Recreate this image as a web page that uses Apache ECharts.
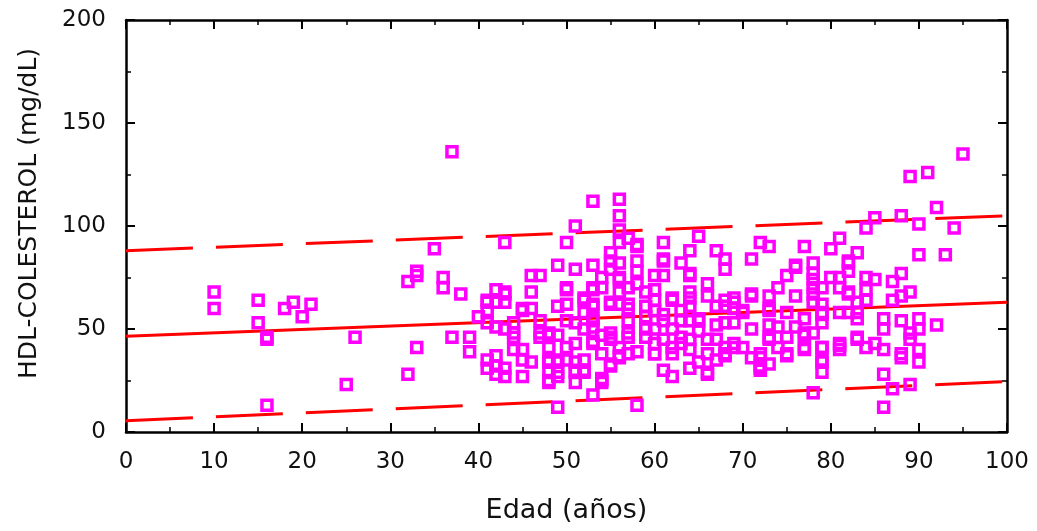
<!DOCTYPE html>
<head>
    <meta charset="utf-8">
    <title>HDL-colesterol por edad</title>
    <script type="text/javascript" src="https://cdn.jsdelivr.net/npm/echarts@6/dist/echarts.min.js"></script>
</head>

<body style="margin:0;background:#fff">
<div id="main" style="width:1037px;height:531px"></div>

<script type="text/javascript">
    // puntos [edad, HDL] agrupados por tramo de edad
    var tramo10a30 = [
        [10,68],[10,60],[15,64],[15,53],[16,46],[16,45],[16,13],[18,60],[19,63],[20,56],
        [21,62],[25,23],[26,46]
    ];
    var tramo30a45 = [
        [32,73],[33,78],[33,76],[32,28],[33,41],[35,89],[36,75],[36,70],[37,136],[37,46],
        [38,67],[39,46],[39,39],[43,92],[42,69],[43,68],[41,63],[42,63],[43,63],[40,56],
        [41,53],[42,51],[44,53],[45,60],[41,35],[42,37],[41,31],[42,32],[43,31],[42,28],
        [43,27],[45,27],[45,40],[46,34],[44,48],[44,40],[41,64],[41,59],[43,67],[45,35],
        [43,50],[44,46],[45,59]
    ];
    var tramo45a55 = [
        [53,112],[51,100],[50,92],[49,81],[51,79],[53,81],[47,76],[46,76],[46,68],[46,60],
        [50,69],[49,61],[47,54],[47,48],[48,48],[48,41],[48,34],[49,34],[48,25],[49,27],
        [50,54],[51,43],[51,34],[52,35],[51,24],[52,64],[52,58],[53,70],[53,61],[54,75],
        [53,18],[49,12],[54,38],[54,25],[55,32],[55,87],[55,83],[55,79],[50,70],[53,62],
        [52,65],[55,63],[53,54],[52,50],[50,41],[53,43],[51,29],[52,29],[53,69],[51,53],
        [53,55],[53,51],[53,44],[47,46],[48,47],[49,47],[48,35],[49,35],[48,29],[49,29],
        [48,24],[50,35],[51,30],[52,30],[54,26],[54,70],[55,62],[55,46],[55,45],[55,33],
        [54,24],[50,62],[54,47]
    ];
    var tramo55a70 = [
        [56,113],[56,105],[56,98],[56,92],[57,94],[58,90],[61,92],[61,84],[64,88],[65,95],
        [67,88],[68,84],[68,79],[66,72],[58,78],[60,76],[61,76],[63,82],[64,76],[56,74],
        [56,68],[57,70],[57,62],[59,68],[59,61],[60,69],[60,64],[62,64],[64,68],[64,61],
        [67,61],[68,61],[69,65],[57,54],[59,56],[61,54],[63,54],[64,54],[65,54],[67,52],
        [68,53],[55,48],[57,48],[59,50],[60,50],[62,50],[63,46],[56,41],[57,38],[60,43],
        [60,38],[62,38],[63,43],[56,36],[58,13],[61,30],[62,27],[64,31],[65,34],[66,29],
        [66,45],[68,41],[69,43],[58,91],[56,82],[58,83],[61,83],[64,77],[56,75],[62,65],
        [64,65],[68,64],[69,60],[56,62],[57,60],[60,59],[61,57],[63,59],[65,55],[69,53],
        [57,46],[59,46],[61,45],[64,45],[67,45],[69,41],[56,37],[58,39],[60,38],[62,41],
        [64,40],[66,38],[68,38],[66,28],[68,37],[69,63],[58,72],[66,66],[65,49],[67,35]
    ];
    var tramo70a100 = [
        [70,59],[71,67],[73,66],[73,60],[72,38],[72,32],[73,45],[71,84],[72,92],[73,90],
        [95,135],[89,124],[91,126],[92,109],[88,105],[85,104],[84,99],[90,101],[94,99],[90,86],
        [93,86],[92,52],[77,90],[80,89],[81,94],[83,87],[82,82],[76,80],[75,76],[78,82],
        [78,77],[80,75],[81,75],[84,75],[85,74],[88,77],[87,73],[89,68],[76,66],[78,70],
        [78,63],[82,68],[83,63],[84,69],[84,64],[87,64],[88,66],[70,58],[73,59],[75,58],
        [79,58],[81,58],[83,55],[86,55],[88,54],[90,55],[71,50],[74,51],[76,51],[77,48],
        [79,53],[83,46],[84,41],[85,43],[86,40],[89,48],[70,41],[72,36],[72,31],[73,33],
        [75,38],[77,41],[79,41],[79,35],[79,29],[81,40],[81,43],[88,36],[90,40],[90,34],
        [86,28],[89,23],[87,21],[78,19],[86,12],[76,81],[82,83],[82,78],[71,66],[74,70],
        [78,74],[78,67],[79,70],[79,62],[81,70],[82,67],[82,58],[73,52],[77,55],[79,57],
        [83,58],[73,46],[74,41],[75,46],[77,47],[78,48],[77,40],[79,41],[81,42],[83,45],
        [71,36],[72,30],[75,37],[79,34],[90,50],[89,45],[88,38],[86,50]
    ];
    // recta de regresion y limites (extremos en x = 0 y x = 100)
    var recta = [[0,46.5],[100,63]];
    var limiteSup = [[0,88],[100,105]];
    var limiteInf = [[0,5.5],[100,24.5]];

    var puntos = tramo10a30.concat(tramo30a45, tramo45a55, tramo55a70, tramo70a100);

    var fuente = 'DejaVu Sans, sans-serif';
    function eje(extra) {
        return Object.assign({
            axisLine: {show: true, onZero: false, lineStyle: {color: '#000', width: 2.5}},
            axisTick: {show: true, inside: true, length: 9, lineStyle: {color: '#000', width: 2}},
            minorTick: {show: true, splitNumber: 2, length: 5, lineStyle: {color: '#000', width: 1.5}},
            splitLine: {show: false}
        }, extra);
    }

    var myChart = echarts.init(document.getElementById('main'));
    var option = {
        backgroundColor: '#fff',
        animation: false,
        grid: {left: 126, right: 30, top: 20, bottom: 99},
        xAxis: [
            eje({
                type: 'value', min: 0, max: 100, interval: 10, position: 'bottom',
                name: 'Edad (años)', nameLocation: 'middle', nameGap: 65,
                nameTextStyle: {fontSize: 27, color: '#111', fontFamily: fuente},
                axisLabel: {fontSize: 23, color: '#111', margin: 19, fontFamily: fuente}
            }),
            eje({
                type: 'value', min: 0, max: 100, interval: 10, position: 'top',
                axisLabel: {show: false}
            })
        ],
        yAxis: [
            eje({
                type: 'value', min: 0, max: 200, interval: 50, position: 'left',
                name: 'HDL-COLESTEROL (mg/dL)', nameLocation: 'middle', nameGap: 84,
                nameTextStyle: {fontSize: 25, color: '#111', fontFamily: fuente, padding: [0, 0, 0, 25]},
                axisLabel: {fontSize: 23, color: '#111', margin: 20, fontFamily: fuente}
            }),
            eje({
                type: 'value', min: 0, max: 200, interval: 50, position: 'right',
                axisLabel: {show: false}
            })
        ],
        series: [
            {
                type: 'line', data: recta, symbol: 'none', z: 2,
                lineStyle: {color: '#ff0000', width: 3}
            },
            {
                type: 'line', data: limiteSup, symbol: 'none', z: 2,
                lineStyle: {color: '#ff0000', width: 3, type: [67, 23]}
            },
            {
                type: 'line', data: limiteInf, symbol: 'none', z: 2,
                lineStyle: {color: '#ff0000', width: 3, type: [67, 23]}
            },
            {
                type: 'scatter', data: puntos, symbol: 'rect', symbolSize: 10, z: 3,
                itemStyle: {color: 'rgba(0,0,0,0)', borderColor: '#ff00ff', borderWidth: 3.5, opacity: 1}
            }
        ]
    };
    myChart.setOption(option);
</script>
</body>
